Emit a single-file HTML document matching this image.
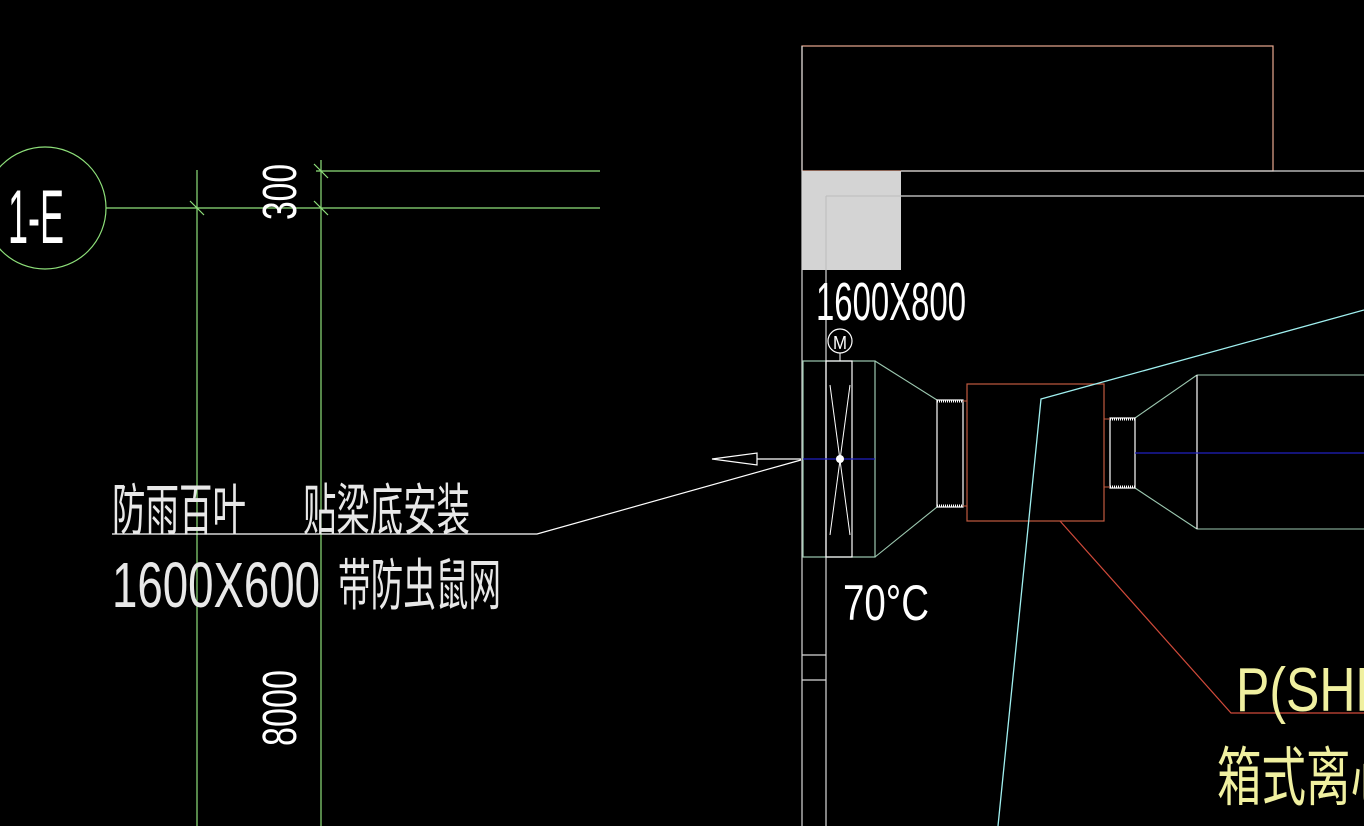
<!DOCTYPE html>
<html><head><meta charset="utf-8"><style>
html,body{margin:0;padding:0;background:#000;width:1364px;height:826px;overflow:hidden}
svg{display:block}
text{font-family:"Liberation Sans","Noto Sans CJK SC",sans-serif;}
</style></head><body>
<svg width="1364" height="826" viewBox="0 0 1364 826" xmlns="http://www.w3.org/2000/svg">
<rect width="1364" height="826" fill="#000"/>
<g stroke="#8ee07a" stroke-width="1.2" fill="none">
<circle cx="45" cy="208" r="61"/>
<line x1="106" y1="208" x2="600" y2="208"/>
<line x1="316" y1="171" x2="600" y2="171"/>
<line x1="197" y1="170" x2="197" y2="826"/>
<line x1="321" y1="160" x2="321" y2="826"/>
<line x1="190" y1="201" x2="204" y2="215"/>
<line x1="314" y1="164" x2="328" y2="178"/>
<line x1="314" y1="201" x2="328" y2="215"/>
</g>
<text x="8" y="243" fill="#fff" font-size="76" textLength="56" lengthAdjust="spacingAndGlyphs">1-E</text>
<text transform="translate(296,220) rotate(-90)" fill="#fff" font-size="48" textLength="56" lengthAdjust="spacingAndGlyphs">300</text>
<text transform="translate(296,746) rotate(-90)" fill="#fff" font-size="48" textLength="76" lengthAdjust="spacingAndGlyphs">8000</text>
<rect x="802" y="46" width="471" height="125" fill="none" stroke="#e8a890" stroke-width="1.2"/>
<rect x="802" y="171" width="99" height="99" fill="#d4d4d4"/>
<g stroke="#d8d8d8" stroke-width="1.2" fill="none">
<line x1="802" y1="46" x2="802" y2="826"/>
<line x1="901" y1="171" x2="1364" y2="171"/>
<line x1="826" y1="196" x2="1364" y2="196"/>
<line x1="826" y1="196" x2="826" y2="826"/>
<line x1="802" y1="655" x2="826" y2="655"/>
<line x1="802" y1="680" x2="826" y2="680"/>
</g>
<line x1="826" y1="196" x2="901" y2="196" stroke="#bbb" stroke-width="1"/>
<line x1="826" y1="196" x2="826" y2="270" stroke="#bbb" stroke-width="1"/>
<text x="816" y="320" fill="#fff" font-size="54" textLength="150" lengthAdjust="spacingAndGlyphs">1600X800</text>
<circle cx="840" cy="341" r="12" fill="none" stroke="#fff" stroke-width="1.2"/>
<text x="833" y="349" fill="#fff" font-size="18" textLength="14" lengthAdjust="spacingAndGlyphs">M</text>
<line x1="840" y1="353" x2="840" y2="361" stroke="#fff"/>
<rect x="803" y="361" width="72" height="196" fill="none" stroke="#9cc8b0" stroke-width="1.2"/>
<rect x="826" y="361" width="26" height="196" fill="none" stroke="#fff" stroke-width="1.2"/>
<g stroke="#fff" stroke-width="1">
<line x1="830" y1="385" x2="850" y2="535"/>
<line x1="850" y1="385" x2="830" y2="535"/>
</g>
<line x1="803" y1="459" x2="875" y2="459" stroke="#2020c0" stroke-width="1.2"/>
<circle cx="840" cy="459" r="4" fill="#fff"/>
<g stroke="#fff" stroke-width="1.2" fill="none">
<polygon points="712,459 757,453 757,465"/>
<line x1="757" y1="459" x2="801" y2="459"/>
<polyline points="801,460 537,534 112,534"/>
</g>
<text x="112" y="530" fill="#e8e8e8" font-size="56" textLength="134" lengthAdjust="spacingAndGlyphs">防雨百叶</text>
<text x="303" y="530" fill="#e8e8e8" font-size="56" textLength="167" lengthAdjust="spacingAndGlyphs">贴梁底安装</text>
<text x="112" y="607" fill="#e8e8e8" font-size="64" textLength="208" lengthAdjust="spacingAndGlyphs">1600X600</text>
<text x="338" y="605" fill="#e8e8e8" font-size="56" textLength="163" lengthAdjust="spacingAndGlyphs">带防虫鼠网</text>
<text x="843" y="620" fill="#fff" font-size="50" textLength="86" lengthAdjust="spacingAndGlyphs">70°C</text>
<g stroke="#9cc8b0" stroke-width="1.1" fill="none">
<line x1="875" y1="361" x2="937" y2="400"/>
<line x1="875" y1="557" x2="937" y2="507"/>
<line x1="1135" y1="418" x2="1197" y2="375"/>
<line x1="1135" y1="488" x2="1197" y2="529"/>
<line x1="1197" y1="375" x2="1364" y2="375"/>
<line x1="1197" y1="529" x2="1364" y2="529"/>
</g>
<line x1="1197" y1="375" x2="1197" y2="529" stroke="#fff" stroke-width="1.2"/>
<g stroke="#fff" stroke-width="1.2" fill="none">
<rect x="937" y="400" width="26" height="107"/>
<rect x="1110" y="418" width="25" height="70"/>
</g>
<g stroke="#fff" stroke-width="3" stroke-dasharray="1 1">
<line x1="937" y1="401" x2="963" y2="401"/>
<line x1="937" y1="506" x2="963" y2="506"/>
<line x1="1110" y1="419" x2="1135" y2="419"/>
<line x1="1110" y1="487" x2="1135" y2="487"/>
</g>
<g stroke="#c05a40" stroke-width="1"><line x1="963" y1="401" x2="967" y2="401"/><line x1="963" y1="506" x2="967" y2="506"/><line x1="1104" y1="419" x2="1110" y2="419"/><line x1="1104" y1="487" x2="1110" y2="487"/></g>
<line x1="1135" y1="453" x2="1364" y2="453" stroke="#2020c0" stroke-width="1.2"/>
<rect x="967" y="384" width="137" height="137" fill="none" stroke="#c05a40" stroke-width="1.2"/>
<polyline points="1060,521 1231,713 1364,713" fill="none" stroke="#d04a3a" stroke-width="1.2"/>
<polyline points="998,826 1041,399 1364,310" fill="none" stroke="#a0f0f0" stroke-width="1.3"/>
<text x="1236" y="711" fill="#f0f0a0" font-size="62" textLength="150" lengthAdjust="spacingAndGlyphs">P(SHF</text>
<text x="1217" y="800" fill="#f0f0a0" font-size="64" textLength="178" lengthAdjust="spacingAndGlyphs">箱式离心</text>
</svg>
</body></html>
